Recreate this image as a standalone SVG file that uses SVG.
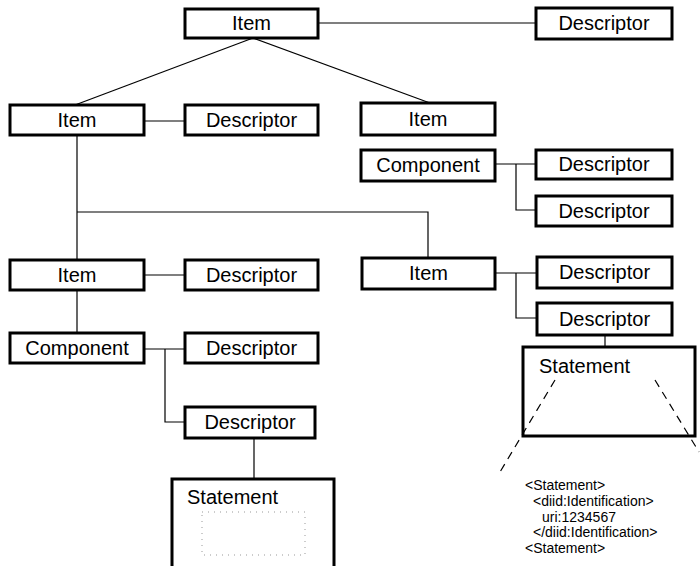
<svg xmlns="http://www.w3.org/2000/svg" width="700" height="566" viewBox="0 0 700 566">
<style>
.box{fill:#fff;stroke:#000;stroke-width:3}
.open{fill:none;stroke:#000;stroke-width:3}
.lbl{font-family:"Liberation Sans",Arial,sans-serif;font-size:20px;fill:#000;text-anchor:middle}
.st{font-family:"Liberation Sans",Arial,sans-serif;font-size:20px;fill:#000}
.xml{font-family:"Liberation Sans",Arial,sans-serif;font-size:14px;fill:#000}
.ln{fill:none;stroke:#000;stroke-width:1.2}
.dash{fill:none;stroke:#000;stroke-width:1.2;stroke-dasharray:8 6}
.dot{fill:none;stroke:#999;stroke-width:1;stroke-dasharray:1 5}
</style>
<rect width="700" height="566" fill="#fff"/>
<g id="connectors">
<line class="ln" x1="318" y1="23" x2="536" y2="23"/>
<line class="ln" x1="253" y1="38" x2="75" y2="105"/>
<line class="ln" x1="253" y1="38" x2="430" y2="103"/>
<line class="ln" x1="144" y1="121" x2="185" y2="121"/>
<polyline class="ln" points="77,135 77,260"/>
<polyline class="ln" points="77,212 428,212 428,258"/>
<line class="ln" x1="144" y1="275" x2="185" y2="275"/>
<line class="ln" x1="77" y1="290" x2="77" y2="333"/>
<line class="ln" x1="144" y1="349" x2="185" y2="349"/>
<polyline class="ln" points="165,349 165,422 185,422"/>
<line class="ln" x1="254" y1="438" x2="254" y2="479"/>
<line class="ln" x1="495" y1="164" x2="536" y2="164"/>
<polyline class="ln" points="516,164 516,210 536,210"/>
<line class="ln" x1="495" y1="273" x2="537" y2="273"/>
<polyline class="ln" points="516,273 516,318 537,318"/>
<line class="ln" x1="605" y1="335" x2="605" y2="347"/>
<line class="dash" x1="555" y1="380" x2="500" y2="472"/>
<line class="dash" x1="655" y1="380" x2="699" y2="452"/>
</g>
<g id="item-top"><rect class="box" x="185" y="9" width="133" height="29"/><text class="lbl" x="251.5" y="30">Item</text></g>
<g id="desc-top"><rect class="box" x="536" y="8" width="136" height="31"/><text class="lbl" x="604" y="30">Descriptor</text></g>
<g id="item-l2"><rect class="box" x="10" y="105" width="134" height="30"/><text class="lbl" x="77" y="127">Item</text></g>
<g id="desc-l2"><rect class="box" x="185" y="105" width="133" height="30"/><text class="lbl" x="251.5" y="127">Descriptor</text></g>
<g id="item-r2"><rect class="box" x="361" y="103" width="134" height="32"/><text class="lbl" x="428" y="126">Item</text></g>
<g id="comp-r"><rect class="box" x="361" y="150" width="134" height="31"/><text class="lbl" x="428" y="172">Component</text></g>
<g id="desc-r1"><rect class="box" x="536" y="150" width="136" height="29"/><text class="lbl" x="604" y="171">Descriptor</text></g>
<g id="desc-r2"><rect class="box" x="536" y="196" width="136" height="30"/><text class="lbl" x="604" y="218">Descriptor</text></g>
<g id="item-l3"><rect class="box" x="10" y="260" width="134" height="30"/><text class="lbl" x="77" y="282">Item</text></g>
<g id="desc-l3"><rect class="box" x="185" y="260" width="133" height="30"/><text class="lbl" x="251.5" y="282">Descriptor</text></g>
<g id="item-r3"><rect class="box" x="362" y="258" width="133" height="31"/><text class="lbl" x="428.5" y="280">Item</text></g>
<g id="desc-r3a"><rect class="box" x="537" y="257" width="135" height="31"/><text class="lbl" x="604.5" y="279">Descriptor</text></g>
<g id="desc-r3b"><rect class="box" x="537" y="303" width="135" height="32"/><text class="lbl" x="604.5" y="326">Descriptor</text></g>
<g id="comp-l"><rect class="box" x="10" y="333" width="134" height="30"/><text class="lbl" x="77" y="355">Component</text></g>
<g id="desc-l4"><rect class="box" x="185" y="333" width="133" height="30"/><text class="lbl" x="251.5" y="355">Descriptor</text></g>
<g id="desc-l5"><rect class="box" x="185" y="407" width="130" height="31"/><text class="lbl" x="250" y="429">Descriptor</text></g>
<g id="stmt-l"><rect class="box" x="172" y="479" width="162" height="100"/><text class="st" x="187" y="504">Statement</text><rect class="dot" x="202" y="512" width="103" height="43"/></g>
<g id="stmt-r"><rect class="open" x="523" y="347" width="172" height="89"/><text class="st" x="539" y="373">Statement</text></g>
<g id="xml">
<text class="xml" x="525" y="490">&lt;Statement&gt;</text>
<text class="xml" x="533" y="506">&lt;diid:Identification&gt;</text>
<text class="xml" x="542" y="522">uri:1234567</text>
<text class="xml" x="533" y="537">&lt;/diid:Identification&gt;</text>
<text class="xml" x="525" y="553">&lt;Statement&gt;</text>
</g>
</svg>
